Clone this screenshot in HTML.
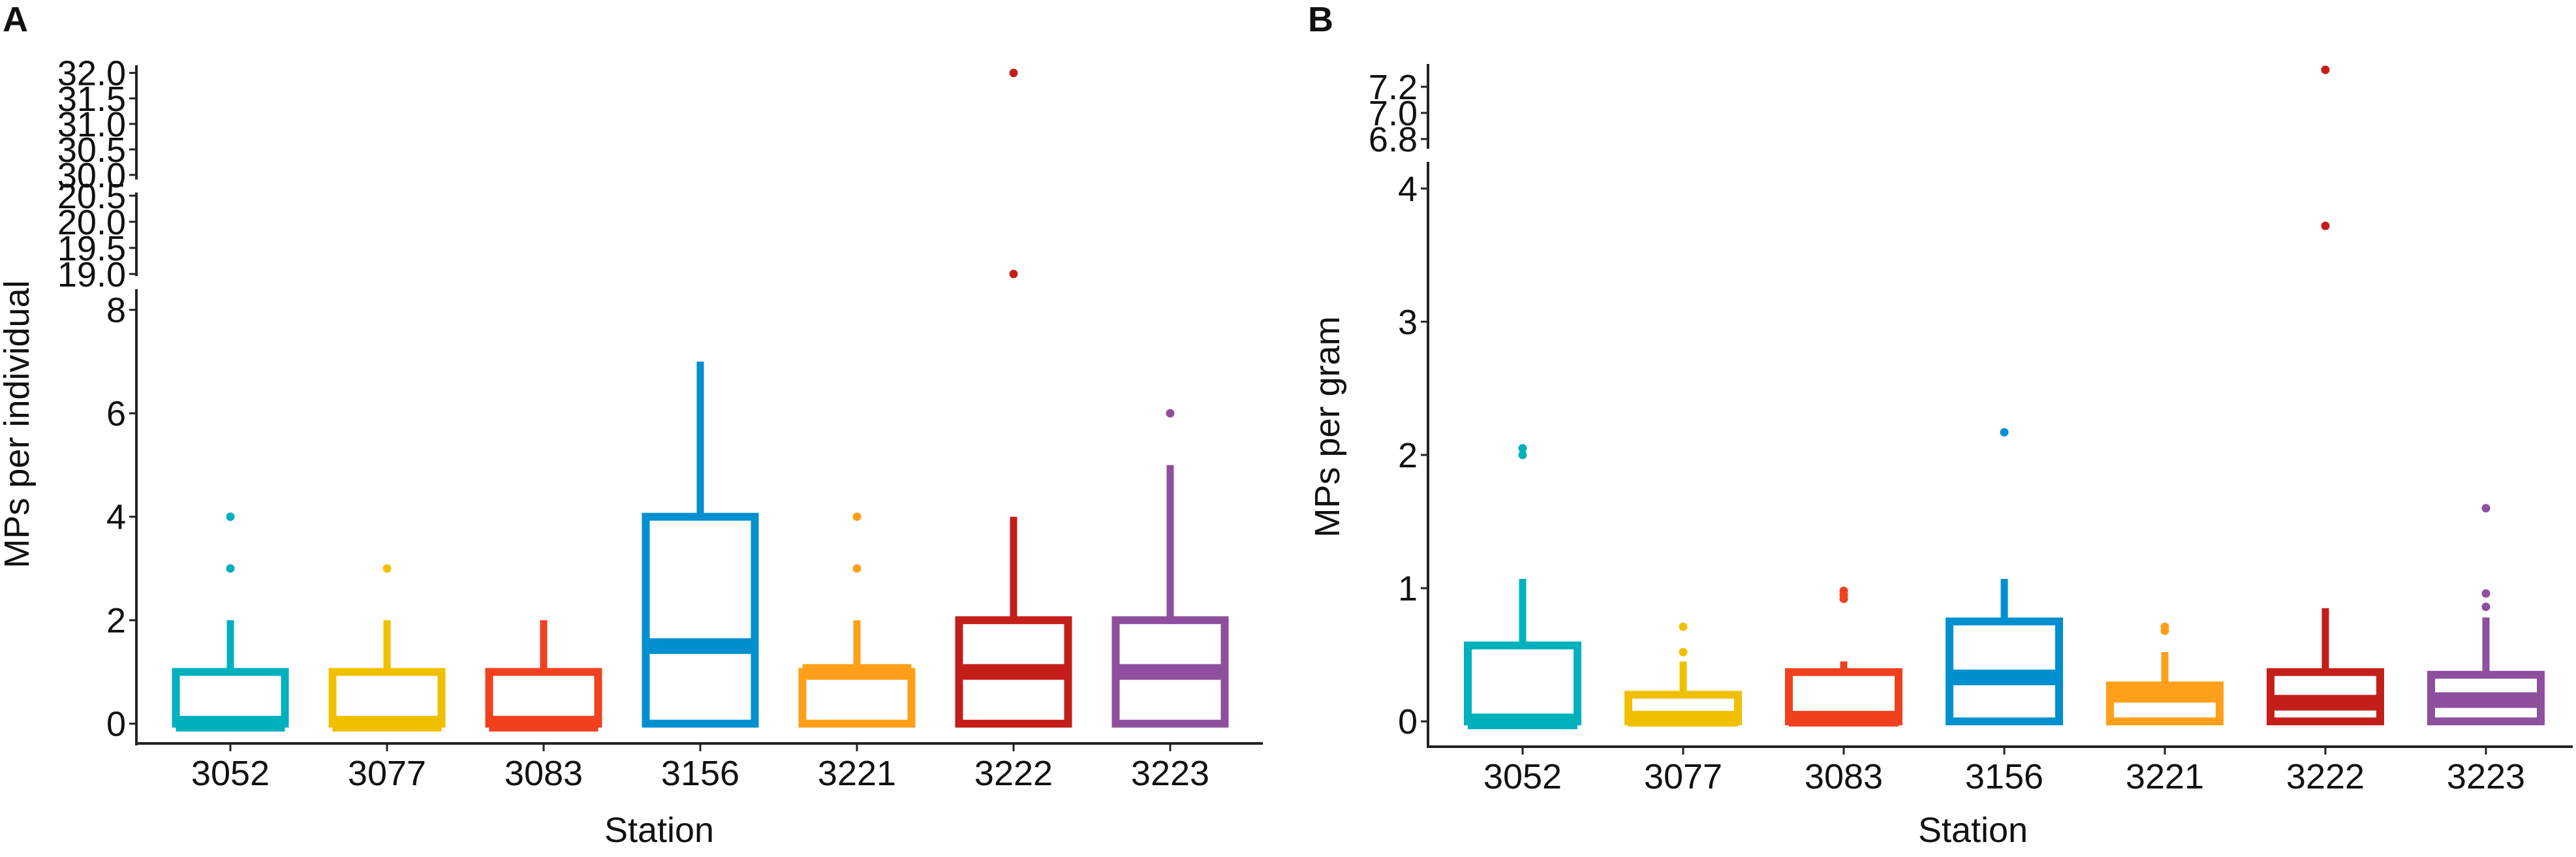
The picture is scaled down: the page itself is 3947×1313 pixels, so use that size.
<!DOCTYPE html>
<html><head><meta charset="utf-8"><style>
html,body{margin:0;padding:0;background:#fff}
svg{display:block}
text{font-family:"Liberation Sans",Arial,sans-serif;fill:#111}
</style></head><body>
<svg id="chart" xmlns="http://www.w3.org/2000/svg" width="3947" height="1313" viewBox="0 0 3947 1313">
<text x="4" y="48" font-size="54" font-weight="bold">A</text>
<text x="2004" y="48" font-size="54" font-weight="bold">B</text>
<text transform="translate(44,650) rotate(-90)" text-anchor="middle" font-size="54">MPs per individual</text>
<text transform="translate(2052,654) rotate(-90)" text-anchor="middle" font-size="54">MPs per gram</text>
<text x="1010" y="1290" text-anchor="middle" font-size="54">Station</text>
<text x="3023" y="1290" text-anchor="middle" font-size="54">Station</text>
<g id="pa"></g><g id="pb"></g>
</svg>
<script>
const stations = ["3052","3077","3083","3156","3221","3222","3223"];
const colors = ["#00B0BD","#F0C000","#F0401E","#0090D0","#FF9F1A","#C41E1A","#8E4F9E"];
// Panel A (MPs per individual)
const aQ1 = [0,0,0,0,0,0,0];
const aMed = [0,0,0,1.5,1,1,1];
const aQ3 = [1,1,1,4,1,2,2];
const aWhisk = [2,2,2,7,2,4,5];
const aOut = [[3,4],[3],[],[],[3,4],[19,32],[6]];
const aTicks = [[0,2,4,6,8],[19,19.5,20,20.5],[30,30.5,31,31.5,32]];
const aTickLabels = [["0","2","4","6","8"],["19.0","19.5","20.0","20.5"],["30.0","30.5","31.0","31.5","32.0"]];
// Panel B (MPs per gram)
const bQ1 = [0,0,0,0,0,0,0];
const bMed = [0,0.02,0.02,0.33,0.2,0.14,0.16];
const bQ3 = [0.57,0.2,0.37,0.75,0.27,0.37,0.35];
const bWhisk = [1.07,0.45,0.45,1.07,0.52,0.85,0.78];
const bOut = [[2.0,2.05],[0.52,0.71],[0.92,0.95,0.98],[2.17],[0.68,0.71],[3.72,7.33],[0.86,0.96,1.6]];
const bTicks = [[0,1,2,3,4],[6.8,7.0,7.2]];
const bTickLabels = [["0","1","2","3","4"],["6.8","7.0","7.2"]];

const NS="http://www.w3.org/2000/svg";
function mk(parent,tag,attrs){const e=document.createElementNS(NS,tag);for(const k in attrs)e.setAttribute(k,attrs[k]);parent.appendChild(e);return e;}

function drawPanel(gid,cfg,q1,med,q3,wh,outs,ticks,tlabels){
  const g=document.getElementById(gid);
  const segs=cfg.segs; // [dmin,dmax,pyBottom,pyTop]
  function y(v){
    for(const s of segs){ if(v>=s[0]-1e-9&&v<=s[1]+1e-9) return s[2]+(v-s[0])/(s[1]-s[0])*(s[3]-s[2]); }
    return segs[0][2];
  }
  function x(i){return cfg.x0+i*cfg.dx;}
  segs.forEach((s,si)=>{
    const l=mk(g,'line',{x1:cfg.ax,x2:cfg.ax,y1:s[2],y2:s[3],stroke:'#222','stroke-width':4});
    
    
    ticks[si].forEach((t,ti)=>{
      const tk=mk(g,'line',{x1:cfg.ax-11,x2:cfg.ax,y1:y(t),y2:y(t),stroke:'#222','stroke-width':3});
      
      
      const tx=mk(g,'text',{x:cfg.ax-16,y:y(t)+19,'text-anchor':'end','font-size':54});
      tx.textContent=tlabels[si][ti];
      
      
    });
  });
  const xa=mk(g,'line',{x1:cfg.ax-2,x2:cfg.xEnd,y1:cfg.xaxisY,y2:cfg.xaxisY,stroke:'#222','stroke-width':4});
  
  
  stations.forEach((st,i)=>{
    const cx=x(i), c=colors[i], hw=cfg.bw/2;
    const tk=mk(g,'line',{x1:cx,x2:cx,y1:cfg.xaxisY,y2:cfg.xaxisY+12,stroke:'#222','stroke-width':3});
    
    
    const tl=mk(g,'text',{x:cx,y:cfg.xaxisY+64,'text-anchor':'middle','font-size':54});
    tl.textContent=st;
    
    
    const grp=mk(g,'g',{});
    
    
    const w=mk(grp,'line',{x1:cx,x2:cx,y1:y(q3[i]),y2:y(wh[i]),stroke:c,'stroke-width':11});
    
    
    const r=mk(grp,'rect',{x:cx-hw,y:y(q3[i]),width:cfg.bw,height:Math.max(0,y(q1[i])-y(q3[i])),fill:'none',stroke:c,'stroke-width':12});
    
    
    const m=mk(grp,'line',{x1:cx-hw,x2:cx+hw,y1:y(med[i]),y2:y(med[i]),stroke:c,'stroke-width':24});
    
    
    outs[i].forEach(v=>{
      const p=mk(grp,'circle',{cx:cx,cy:y(v),r:6.5,fill:c});
      
      
    });
  });
}
drawPanel('pa',{segs:[[-0.42,8.4,1142,443],[18.96,20.56,423,295],[29.91,32.15,275,100]],ax:209,xEnd:1935,xaxisY:1139,x0:353,dx:240,bw:167},
  aQ1,aMed,aQ3,aWhisk,aOut,aTicks,aTickLabels);
drawPanel('pb',{segs:[[-0.19,4.2,1144,248],[6.725,7.375,228,98]],ax:2188,xEnd:3942,xaxisY:1144,x0:2333,dx:246,bw:168},
  bQ1,bMed,bQ3,bWhisk,bOut,bTicks,bTickLabels);
</script>
</body></html>
